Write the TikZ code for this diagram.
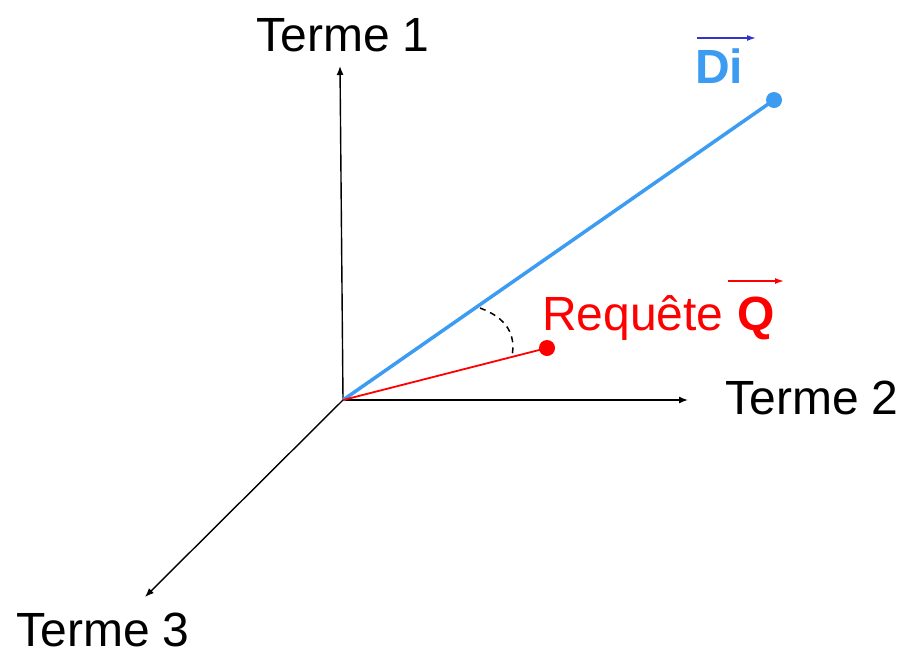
\documentclass[tikz,border=0pt]{standalone}
\usepackage{fontspec}
\setmainfont{Liberation Sans}
\usepackage{xcolor}
\usetikzlibrary{arrows.meta}

\definecolor{diblue}{HTML}{3C9CF2}
\definecolor{arrblue}{HTML}{3434C8}
\definecolor{qred}{HTML}{FF0000}

\begin{document}
\begin{tikzpicture}[x=1pt, y=-1pt,
  every node/.style={font=\fontsize{48}{56}\selectfont, inner sep=0pt},
  axis/.style={line width=1.4pt, -{Latex[length=9pt,width=7pt]}},
  vecarrow/.style={line width=1.4pt, -{Latex[length=9pt,width=6pt]}},
  dot/.style={circle, inner sep=0pt, minimum size=16pt}]
\useasboundingbox (0,0) rectangle (905,654);
\coordinate (o) at (343,400);
\coordinate (t1) at (340,66);
\coordinate (t2) at (688,400);
\coordinate (t3) at (145,597);
\node[dot, fill=diblue] (d) at (774,100) {};
\node[dot, fill=qred] (q) at (547,348) {};
\draw[axis] (o)--(t1);
\draw[axis] (o)--(t2);
\draw[axis] (o)--(t3);
\draw[diblue, line width=3.5pt] (o)--(d.center);
\draw[qred, line width=1.8pt] (o)--(q.center);
% angle between Di and Q
\coordinate (a1) at (480,308);
\coordinate (a2) at (512,356);
\draw[line width=1.5pt, dash pattern=on 6pt off 5pt] (a1) .. controls (507,318) and (516,335) .. (a2);
% labels
\node (l1) at (343,35) {Terme 1};
\node (l2) at (812,398) {Terme 2};
\node (l3) at (103,630) {Terme 3};
\node[anchor=base west, text=qred] (lq) at (542,330) {Requête \textbf{Q}};
\node[anchor=base west, text=diblue] (ld) at (695,83) {\textbf{Di}};
\coordinate (vd1) at (697,38);
\coordinate (vd2) at (756,38);
\coordinate (vq1) at (728,281);
\coordinate (vq2) at (784,281);
\draw[vecarrow, arrblue] (vd1)--(vd2);
\draw[vecarrow, qred] (vq1)--(vq2);
\end{tikzpicture}
\end{document}
